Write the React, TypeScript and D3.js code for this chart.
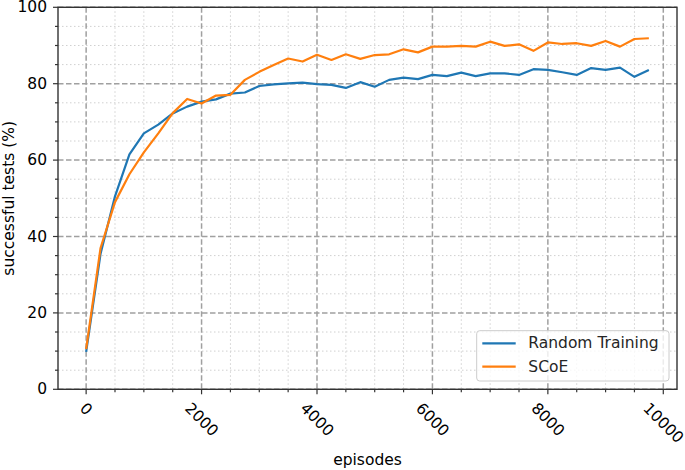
import React from "react";
import * as d3 from "d3";

const episodes: number[] = d3.range(0, 10000, 250);
const randomTraining: number[] = [
  9.8, 35.5, 50.5, 61.5, 67, 69.3, 72.2, 74, 75.3, 75.9,
  77.4, 77.7, 79.4, 79.8, 80.1, 80.3, 79.9, 79.7, 78.9, 80.4,
  79.2, 81, 81.6, 81.2, 82.3, 82.0, 82.9, 82.0, 82.7, 82.7,
  82.3, 83.8, 83.6, 83.0, 82.3, 84.1, 83.6, 84.2, 81.8, 83.6,
];
const scoe: number[] = [
  10.5, 37, 49, 56.3, 62, 67, 72.3, 76, 74.8, 76.9,
  77.1, 81, 83.1, 84.9, 86.6, 85.8, 87.6, 86.2, 87.7, 86.5,
  87.5, 87.7, 89, 88.2, 89.7, 89.7, 89.9, 89.7, 91, 89.9,
  90.3, 88.6, 90.8, 90.4, 90.6, 89.9, 91.2, 89.7, 91.7, 91.9,
];
const seriesNames: string[] = ["Random Training", "SCoE"];
const seriesColors: string[] = ["#1f77b4", "#ff7f0e"];
const xTicks: number[] = [0, 2000, 4000, 6000, 8000, 10000];
const yTicks: number[] = [0, 20, 40, 60, 80, 100];
const xMinor: number[] = d3.range(0, 10001, 500);
const yMinor: number[] = d3.range(0, 101, 5);

const W = 685;
const H = 470;
const L = 58;
const R = 677;
const T = 7.3;
const B = 389.3;
const FS = 15.5;
const FONT = "DejaVu Sans";

export default function App() {
  const x = d3.scaleLinear().domain([-487.5, 10237.5]).range([L, R]);
  const y = d3.scaleLinear().domain([0, 100]).range([B, T]);
  const line = d3
    .line<[number, number]>()
    .x((d) => x(d[0]))
    .y((d) => y(d[1]));
  const series = [randomTraining, scoe];

  return (
    <svg
      width={W}
      height={H}
      style={{ position: "absolute", left: 0, top: 0, display: "block" }}
      fontFamily={FONT}
    >
      <rect x={0} y={0} width={W} height={H} fill="#fff" />
      {/* minor grid */}
      {xMinor
        .filter((v) => !xTicks.includes(v))
        .map((v) => (
          <line key={"xm" + v} x1={x(v)} x2={x(v)} y1={T} y2={B} stroke="#d0d0d0" strokeWidth={1} strokeDasharray="1.5,2.5" />
        ))}
      {yMinor
        .filter((v) => !yTicks.includes(v))
        .map((v) => (
          <line key={"ym" + v} x1={L} x2={R} y1={y(v)} y2={y(v)} stroke="#d0d0d0" strokeWidth={1} strokeDasharray="1.5,2.5" />
        ))}
      {/* major grid */}
      {xTicks.map((v) => (
        <line key={"xg" + v} x1={x(v)} x2={x(v)} y1={T} y2={B} stroke="#a0a0a0" strokeWidth={1.5} strokeDasharray="5.5,2.5" />
      ))}
      {yTicks.map((v) => (
        <line key={"yg" + v} x1={L} x2={R} y1={y(v)} y2={y(v)} stroke="#a0a0a0" strokeWidth={1.5} strokeDasharray="5.5,2.5" />
      ))}
      {/* lines */}
      {series.map((s, i) => (
        <path
          key={"s" + i}
          d={line(s.map((v, j) => [episodes[j], v] as [number, number])) || ""}
          fill="none"
          stroke={seriesColors[i]}
          strokeWidth={2.2}
          strokeLinejoin="round"
        />
      ))}
      {/* frame */}
      <rect x={L} y={T} width={R - L} height={B - T} fill="none" stroke="#333" strokeWidth={1.4} />
      {/* ticks */}
      {xMinor.map((v) => (
        <line key={"xt" + v} x1={x(v)} x2={x(v)} y1={B} y2={B + (xTicks.includes(v) ? 5 : 3)} stroke="#333" strokeWidth={1.2} />
      ))}
      {yMinor.map((v) => (
        <line key={"yt" + v} x1={L} x2={L - (yTicks.includes(v) ? 5 : 3)} y1={y(v)} y2={y(v)} stroke="#333" strokeWidth={1.2} />
      ))}
      {/* y tick labels */}
      {yTicks.map((v) => (
        <text key={"yl" + v} x={L - 11} y={y(v)} textAnchor="end" dominantBaseline="central" fontSize={FS} fill="#000">
          {v}
        </text>
      ))}
      {/* x tick labels rotated */}
      {xTicks.map((v) => {
        const label = String(v);
        const w = label.length * 0.636 * FS;
        const h = 1.164 * FS;
        const half = (w + h) / (2 * Math.SQRT2);
        return (
          <g key={"xl" + v} transform={`translate(${x(v)},${B + 10 + half})`}>
            <text transform="rotate(45)" textAnchor="middle" dominantBaseline="central" fontSize={FS} fill="#000">
              {label}
            </text>
          </g>
        );
      })}
      {/* axis labels */}
      <text x={(L + R) / 2} y={465} textAnchor="middle" fontSize={FS} fill="#000">
        episodes
      </text>
      <text transform={`translate(14,${(T + B) / 2}) rotate(-90)`} textAnchor="middle" fontSize={FS} fill="#000">
        successful tests (%)
      </text>
      {/* legend */}
      <rect x={476.7} y={330.7} width={192.3} height={50.3} rx={3} fill="#fff" fillOpacity={0.8} stroke="#ccc" strokeWidth={1} />
      {seriesNames.map((name, i) => {
        const ly = 343.3 + i * 23.4;
        return (
          <g key={"lg" + i}>
            <line x1={482.3} x2={515.7} y1={ly} y2={ly} stroke={seriesColors[i]} strokeWidth={2.2} />
            <text x={528.3} y={ly} dominantBaseline="central" fontSize={FS} fill="#262626">
              {name}
            </text>
          </g>
        );
      })}
    </svg>
  );
}
